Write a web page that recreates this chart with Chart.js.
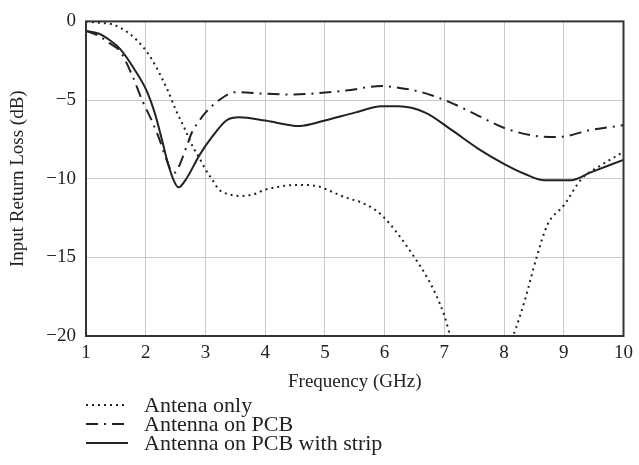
<!DOCTYPE html>
<html>
<head>
<meta charset="utf-8">
<script src="https://cdn.jsdelivr.net/npm/chart.js@4.4.1/dist/chart.umd.min.js"></script>
<style>
  html, body { margin: 0; padding: 0; background: #fff; }
  #wrap { width: 639px; height: 465px; }
</style>
</head>
<body>
<div id="wrap"><canvas id="return-loss"></canvas></div>
<script>
// values (GHz, dB)
const freqOnly = [1.0, 1.25, 1.45, 1.7, 1.95, 2.1, 2.23, 2.37, 2.5, 2.65, 2.78, 2.9, 3.0, 3.12, 3.23, 3.4, 3.57, 3.8, 4.0, 4.25, 4.5, 4.7, 4.9, 5.1, 5.35, 5.6, 5.85, 6.0, 6.2, 6.5, 6.7, 6.85, 7.0, 7.1, 7.3, 7.9, 8.15, 8.35, 8.53, 8.73, 9.0, 9.3, 9.6, 10.0];
const lossOnly = [0, -0.1, -0.2, -0.7, -1.6, -2.4, -3.3, -4.4, -5.6, -6.8, -7.9, -8.7, -9.4, -10.1, -10.7, -11.0, -11.1, -11.0, -10.7, -10.5, -10.4, -10.4, -10.5, -10.8, -11.2, -11.5, -12.0, -12.5, -13.4, -15.0, -16.2, -17.3, -18.7, -20.0, -22.0, -22.0, -20.0, -17.7, -15.2, -12.9, -11.7, -10.0, -9.2, -8.3];

const freqPcb = [1.0, 1.2, 1.4, 1.57, 1.77, 1.95, 2.1, 2.2, 2.35, 2.45, 2.5, 2.57, 2.68, 2.78, 2.9, 3.0, 3.23, 3.5, 4.0, 4.5, 4.75, 5.35, 5.95, 6.2, 6.57, 7.07, 7.57, 8.02, 8.57, 8.9, 9.45, 10.0];
const lossPcb = [-0.6, -0.9, -1.4, -1.9, -3.4, -5.1, -6.3, -7.2, -8.8, -9.6, -9.6, -9.1, -8.0, -7.0, -6.3, -5.8, -5.0, -4.5, -4.6, -4.65, -4.6, -4.4, -4.1, -4.2, -4.45, -5.1, -6.0, -6.8, -7.3, -7.35, -6.9, -6.6];

const freqStrip = [1.0, 1.23, 1.4, 1.57, 1.82, 2.02, 2.15, 2.27, 2.37, 2.48, 2.55, 2.68, 2.9, 3.12, 3.35, 3.57, 4.0, 4.57, 5.0, 5.5, 5.95, 6.23, 6.68, 7.12, 7.57, 8.02, 8.35, 8.68, 9.12, 9.45, 10.0];
const lossStrip = [-0.6, -0.8, -1.2, -1.75, -3.1, -4.45, -5.8, -7.5, -9.0, -10.2, -10.55, -10.0, -8.5, -7.3, -6.3, -6.1, -6.3, -6.65, -6.3, -5.8, -5.4, -5.4, -5.8, -6.9, -8.1, -9.1, -9.7, -10.1, -10.1, -9.6, -8.8];

const seriesNames = ["Antena only", "Antenna on PCB", "Antenna on PCB with strip"];
const xTicks = [1, 2, 3, 4, 5, 6, 7, 8, 9, 10];
const yTicks = [0, -5, -10, -15, -20];

const toPoints = (xs, ys) => xs.map((x, i) => ({ x: x, y: ys[i] }));

const serif = "'Liberation Serif', 'DejaVu Serif', serif";
const ink = "#222";

// box round the plot area
const framePlugin = {
    id: "frame",
    afterDatasetsDraw(chart) {
        const { ctx, chartArea: a } = chart;
        ctx.save();
        ctx.strokeStyle = "#333";
        ctx.lineWidth = 2;
        ctx.strokeRect(a.left, a.top, a.right - a.left, a.bottom - a.top);
        ctx.restore();
    }
};

// legend stacked in rows under the axis title
const rowLegend = {
    id: "rowLegend",
    afterDraw(chart) {
        const ctx = chart.ctx;
        const x0 = 86, rowY = [405, 424, 443];
        ctx.save();
        chart.data.datasets.forEach((ds, i) => {
            ctx.strokeStyle = ds.borderColor;
            ctx.lineWidth = ds.borderWidth;
            ctx.setLineDash(ds.borderDash || []);
            ctx.beginPath();
            ctx.moveTo(x0, rowY[i]);
            ctx.lineTo(x0 + 42, rowY[i]);
            ctx.stroke();
            ctx.setLineDash([]);
            ctx.fillStyle = ink;
            ctx.font = "22px " + serif;
            ctx.textBaseline = "middle";
            ctx.fillText(ds.label, x0 + 58, rowY[i] + 1);
        });
        ctx.restore();
    }
};

const ctx = document.getElementById("return-loss").getContext("2d");

new Chart(ctx, {
    type: "line",
    data: {
        datasets: [
            {
                label: seriesNames[0],
                data: toPoints(freqOnly, lossOnly),
                borderColor: ink,
                borderWidth: 2,
                borderDash: [2, 4]
            },
            {
                label: seriesNames[1],
                data: toPoints(freqPcb, lossPcb),
                borderColor: ink,
                borderWidth: 2,
                borderDash: [12, 6, 2, 6]
            },
            {
                label: seriesNames[2],
                data: toPoints(freqStrip, lossStrip),
                borderColor: ink,
                borderWidth: 2
            }
        ]
    },
    options: {
        responsive: true,
        maintainAspectRatio: false,
        animation: false,
        cubicInterpolationMode: "monotone",
        pointRadius: 0,
        layout: { padding: { top: 17, right: 13, bottom: 64, left: 0 } },
        plugins: {
            legend: { display: false },
            tooltip: { enabled: false }
        },
        scales: {
            x: {
                type: "linear",
                min: 1,
                max: 10,
                afterBuildTicks: s => { s.ticks = xTicks.map(v => ({ value: v })); },
                afterFit: s => { s.height = 65; },
                ticks: { color: ink, font: { family: serif, size: 19 }, padding: 6, maxRotation: 0 },
                grid: { color: "#c8c8c8", lineWidth: 1, drawTicks: false },
                border: { display: false },
                title: {
                    display: true,
                    text: "Frequency (GHz)",
                    color: ink,
                    font: { family: serif, size: 19 },
                    padding: { top: 0, bottom: 8 }
                }
            },
            y: {
                min: -20,
                max: 0,
                afterBuildTicks: s => { s.ticks = yTicks.map(v => ({ value: v })); },
                afterFit: s => { s.width = 86; },
                ticks: {
                    color: ink,
                    font: { family: serif, size: 19 },
                    padding: 10,
                    callback: v => v < 0 ? "\u2212" + Math.abs(v) : String(v)
                },
                grid: { color: "#c8c8c8", lineWidth: 1, drawTicks: false },
                border: { display: false },
                title: {
                    display: true,
                    text: "Input Return Loss (dB)",
                    color: ink,
                    font: { family: serif, size: 19 },
                    padding: { top: 7, bottom: 0 }
                }
            }
        }
    },
    plugins: [framePlugin, rowLegend]
});
</script>
</body>
</html>
